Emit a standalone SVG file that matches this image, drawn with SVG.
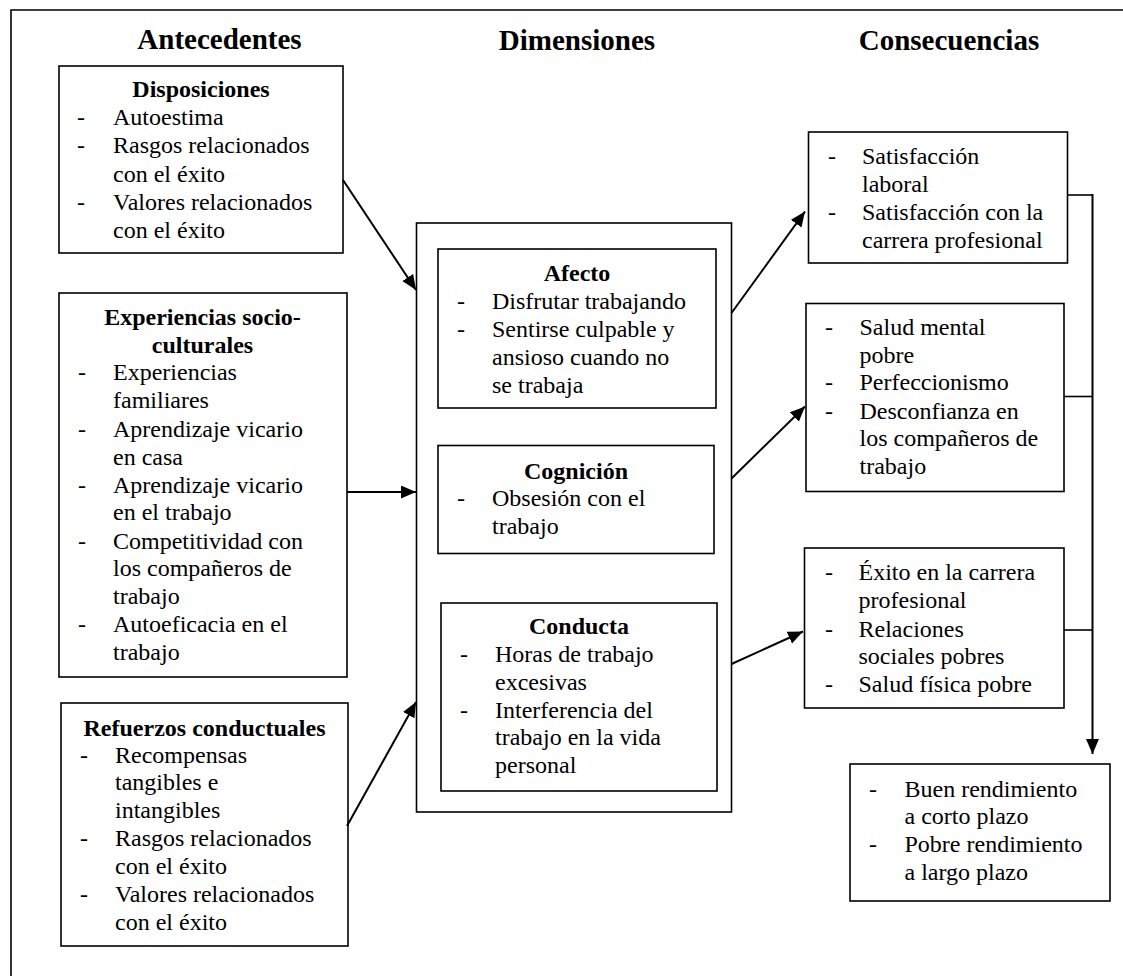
<svg xmlns="http://www.w3.org/2000/svg" width="1123" height="976" viewBox="0 0 1123 976">
  <style>
    text { font-family: 'Liberation Serif', 'Times New Roman', Times, 'DejaVu Serif', serif; fill: #000; }
    .hdr { font-size: 29px; font-weight: bold; text-anchor: middle; }
    .ttl { font-size: 24px; font-weight: bold; text-anchor: middle; }
    .it { font-size: 24px; }
    .box { fill: #fff; stroke: #000; stroke-width: 1.6; }
    .frame { fill: none; stroke: #000; stroke-width: 1.6; }
    .arrow { fill: none; stroke: #000; stroke-width: 2; marker-end: url(#head); }
    .link { fill: none; stroke: #000; stroke-width: 1.6; }
  </style>
  <defs>
    <marker id="head" markerUnits="userSpaceOnUse" markerWidth="16" markerHeight="14" refX="15" refY="6.5" orient="auto">
      <path d="M0,0 L15,6.5 L0,13 z" fill="#000"/>
    </marker>
  </defs>

  <rect width="1123" height="976" fill="#fff"/>

  <g font-family="'Liberation Serif', 'Times New Roman', Times, 'DejaVu Serif', serif">

  <!-- outer frame (open at right and bottom) -->
  <path class="frame" d="M11,976 V10 H1123"/>

  <!-- column headings -->
  <text class="hdr" x="219.5" y="48.5">Antecedentes</text>
  <text class="hdr" x="577" y="50">Dimensiones</text>
  <text class="hdr" x="949" y="50">Consecuencias</text>

  <!-- Antecedentes -->
  <g id="disposiciones">
    <rect class="box" x="59" y="66" width="284" height="187"/>
    <text class="ttl" x="201" y="97">Disposiciones</text>
    <text class="it"><tspan x="77" y="125">-</tspan><tspan x="113" y="125">Autoestima</tspan></text>
    <text class="it"><tspan x="77" y="153">-</tspan><tspan x="113" y="153">Rasgos relacionados</tspan><tspan x="113" y="181.5">con el éxito</tspan></text>
    <text class="it"><tspan x="77" y="210">-</tspan><tspan x="113" y="210">Valores relacionados</tspan><tspan x="113" y="238">con el éxito</tspan></text>
  </g>

  <g id="experiencias">
    <rect class="box" x="59" y="293" width="288" height="384"/>
    <text class="ttl" x="202.5" y="325">Experiencias socio-</text>
    <text class="ttl" x="202.5" y="353">culturales</text>
    <text class="it"><tspan x="78" y="380">-</tspan><tspan x="113" y="380">Experiencias</tspan><tspan x="113" y="408">familiares</tspan></text>
    <text class="it"><tspan x="78" y="436.5">-</tspan><tspan x="113" y="436.5">Aprendizaje vicario</tspan><tspan x="113" y="464.5">en casa</tspan></text>
    <text class="it"><tspan x="78" y="492.5">-</tspan><tspan x="113" y="492.5">Aprendizaje vicario</tspan><tspan x="113" y="520">en el trabajo</tspan></text>
    <text class="it"><tspan x="78" y="548.5">-</tspan><tspan x="113" y="548.5">Competitividad con</tspan><tspan x="113" y="576">los compañeros de</tspan><tspan x="113" y="603.5">trabajo</tspan></text>
    <text class="it"><tspan x="78" y="631.5">-</tspan><tspan x="113" y="631.5">Autoeficacia en el</tspan><tspan x="113" y="659.5">trabajo</tspan></text>
  </g>

  <g id="refuerzos">
    <rect class="box" x="61" y="703" width="287" height="243"/>
    <text class="ttl" x="204.5" y="736">Refuerzos conductuales</text>
    <text class="it"><tspan x="80" y="762.5">-</tspan><tspan x="115" y="762.5">Recompensas</tspan><tspan x="115" y="790">tangibles e</tspan><tspan x="115" y="817.5">intangibles</tspan></text>
    <text class="it"><tspan x="80" y="846">-</tspan><tspan x="115" y="846">Rasgos relacionados</tspan><tspan x="115" y="873.5">con el éxito</tspan></text>
    <text class="it"><tspan x="80" y="901.5">-</tspan><tspan x="115" y="901.5">Valores relacionados</tspan><tspan x="115" y="929.5">con el éxito</tspan></text>
  </g>

  <!-- Dimensiones -->
  <g id="dimensiones">
    <rect class="box" x="416.5" y="223" width="315" height="589"/>
  </g>

  <g id="afecto">
    <rect class="box" x="438" y="249" width="278" height="159"/>
    <text class="ttl" x="577" y="281">Afecto</text>
    <text class="it"><tspan x="457" y="309">-</tspan><tspan x="492" y="309">Disfrutar trabajando</tspan></text>
    <text class="it"><tspan x="457" y="337">-</tspan><tspan x="492" y="337">Sentirse culpable y</tspan><tspan x="492" y="365">ansioso cuando no</tspan><tspan x="492" y="392.5">se trabaja</tspan></text>
  </g>

  <g id="cognicion">
    <rect class="box" x="438" y="445.5" width="276" height="108"/>
    <text class="ttl" x="576" y="478.5">Cognición</text>
    <text class="it"><tspan x="457" y="506">-</tspan><tspan x="492" y="506">Obsesión con el</tspan><tspan x="492" y="533.5">trabajo</tspan></text>
  </g>

  <g id="conducta">
    <rect class="box" x="441" y="603" width="276" height="188"/>
    <text class="ttl" x="579" y="634">Conducta</text>
    <text class="it"><tspan x="460" y="662">-</tspan><tspan x="495" y="662">Horas de trabajo</tspan><tspan x="495" y="689.5">excesivas</tspan></text>
    <text class="it"><tspan x="460" y="717.5">-</tspan><tspan x="495" y="717.5">Interferencia del</tspan><tspan x="495" y="745">trabajo en la vida</tspan><tspan x="495" y="772.5">personal</tspan></text>
  </g>

  <!-- Consecuencias -->
  <g id="satisfaccion">
    <rect class="box" x="808.5" y="132" width="259" height="131"/>
    <text class="it"><tspan x="828" y="164">-</tspan><tspan x="862" y="164">Satisfacción</tspan><tspan x="862" y="191.5">laboral</tspan></text>
    <text class="it"><tspan x="828" y="220">-</tspan><tspan x="862" y="220">Satisfacción con la</tspan><tspan x="862" y="247.5">carrera profesional</tspan></text>
  </g>

  <g id="salud-mental">
    <rect class="box" x="806" y="303.5" width="258" height="188"/>
    <text class="it"><tspan x="825" y="335">-</tspan><tspan x="859.5" y="335">Salud mental</tspan><tspan x="859.5" y="362.5">pobre</tspan></text>
    <text class="it"><tspan x="825" y="390">-</tspan><tspan x="859.5" y="390">Perfeccionismo</tspan></text>
    <text class="it"><tspan x="825" y="418.5">-</tspan><tspan x="859.5" y="418.5">Desconfianza en</tspan><tspan x="859.5" y="446">los compañeros de</tspan><tspan x="859.5" y="473.5">trabajo</tspan></text>
  </g>

  <g id="exito">
    <rect class="box" x="804.5" y="548" width="259.5" height="160"/>
    <text class="it"><tspan x="825" y="580">-</tspan><tspan x="858.5" y="580">Éxito en la carrera</tspan><tspan x="858.5" y="608">profesional</tspan></text>
    <text class="it"><tspan x="825" y="636.5">-</tspan><tspan x="858.5" y="636.5">Relaciones</tspan><tspan x="858.5" y="664">sociales pobres</tspan></text>
    <text class="it"><tspan x="825" y="691.5">-</tspan><tspan x="858.5" y="691.5">Salud física pobre</tspan></text>
  </g>

  <g id="rendimiento">
    <rect class="box" x="850" y="764" width="260" height="137"/>
    <text class="it"><tspan x="869" y="796.5">-</tspan><tspan x="904.5" y="796.5">Buen rendimiento</tspan><tspan x="904.5" y="824">a corto plazo</tspan></text>
    <text class="it"><tspan x="869" y="852">-</tspan><tspan x="904.5" y="852">Pobre rendimiento</tspan><tspan x="904.5" y="880">a largo plazo</tspan></text>
  </g>

  <!-- connectors -->
  <g id="connectors">
    <line class="arrow" x1="343" y1="180" x2="416" y2="290"/>
    <line class="arrow" x1="347" y1="492" x2="416" y2="492"/>
    <line class="arrow" x1="347" y1="826" x2="416" y2="702"/>
    <line class="arrow" x1="731.5" y1="313" x2="805" y2="211.5"/>
    <line class="arrow" x1="731.5" y1="478.5" x2="805" y2="406.5"/>
    <line class="arrow" x1="731.5" y1="664" x2="803" y2="631.5"/>
    <line class="link" x1="1067.5" y1="195" x2="1092.5" y2="195"/>
    <line class="link" x1="1064" y1="396.5" x2="1092.5" y2="396.5"/>
    <line class="link" x1="1064" y1="630" x2="1092.5" y2="630"/>
    <line class="arrow" x1="1092.5" y1="194" x2="1092.5" y2="754"/>
  </g>

  </g>
</svg>
